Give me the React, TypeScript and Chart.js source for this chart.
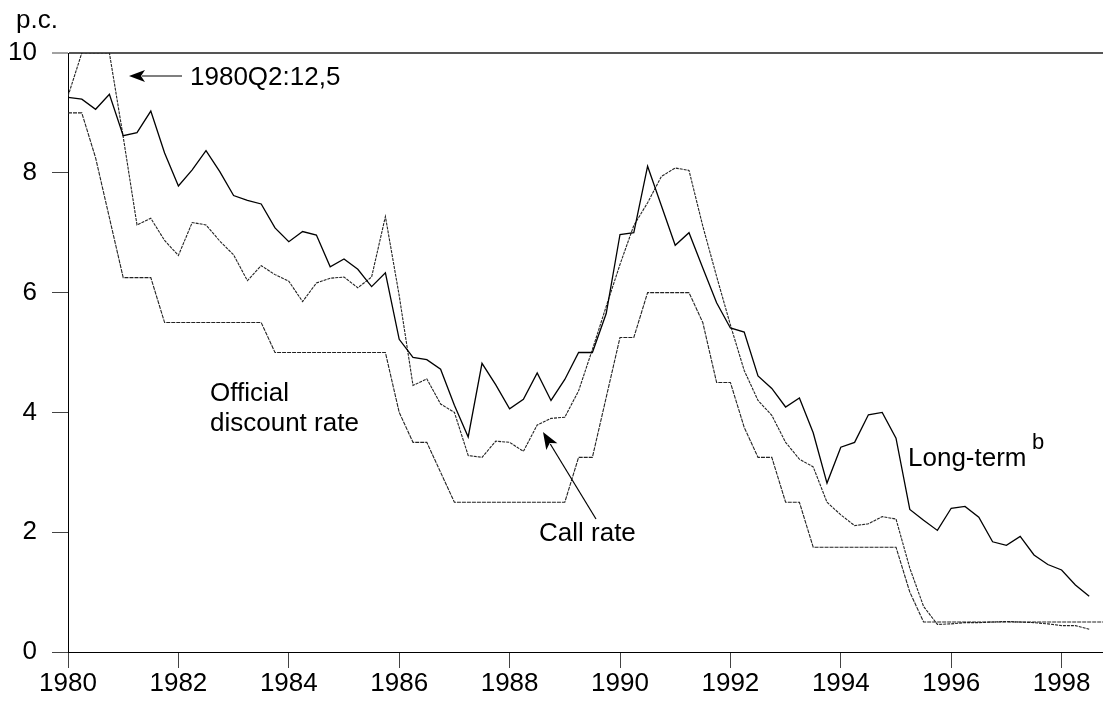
import React, { useEffect, useRef } from 'react';
import { Chart, registerables } from 'chart.js';

Chart.register(...registerables);

const FONT = "'Liberation Sans', Arial, Helvetica, sans-serif";

// Quarterly observations, 1980Q1 .. 1998Q4
const START_YEAR = 1980;
const quarters: number[] = Array.from({ length: 76 }, (_, i) => START_YEAR + i / 4);

const xTickYears = [1980, 1982, 1984, 1986, 1988, 1990, 1992, 1994, 1996, 1998];
const yTickValues = [0, 2, 4, 6, 8, 10];

// Long-term rate (solid)
const longTerm: (number | null)[] = [
  9.26, 9.23, 9.06, 9.31,
  8.62, 8.67, 9.03, 8.33,
  7.78, 8.05, 8.37, 8.02,
  7.62, 7.54, 7.48, 7.08,
  6.85, 7.02, 6.96, 6.43,
  6.56, 6.39, 6.10, 6.33,
  5.22, 4.92, 4.88, 4.72,
  4.12, 3.59, 4.82, 4.46,
  4.06, 4.22, 4.66, 4.20,
  4.55, 5.00, 5.00, 5.65,
  6.97, 7.00, 8.11, 7.45,
  6.79, 7.00, 6.41, 5.83,
  5.41, 5.34, 4.61, 4.40,
  4.09, 4.24, 3.66, 2.82,
  3.42, 3.50, 3.96, 4.00,
  3.57, 2.38, 2.20, 2.03,
  2.40, 2.43, 2.25, 1.84,
  1.78, 1.93, 1.62, 1.46,
  1.37, 1.12, 0.93, null,
];

// Call rate (fine dashes), capped at 10 on the chart
const callRate: (number | null)[] = [
  9.28, 10.0, 10.0, 10.0,
  8.60, 7.13, 7.24, 6.87,
  6.62, 7.17, 7.13, 6.86,
  6.63, 6.20, 6.45, 6.30,
  6.19, 5.85, 6.16, 6.24,
  6.26, 6.08, 6.26, 7.27,
  5.95, 4.45, 4.56, 4.14,
  4.00, 3.28, 3.25, 3.52,
  3.50, 3.35, 3.79, 3.90,
  3.92, 4.36, 5.05, 5.77,
  6.47, 7.12, 7.50, 7.94,
  8.08, 8.04, 7.11, 6.27,
  5.46, 4.70, 4.20, 3.95,
  3.50, 3.22, 3.09, 2.50,
  2.29, 2.11, 2.14, 2.26,
  2.22, 1.40, 0.76, 0.46,
  0.47, 0.49, 0.49, 0.50,
  0.51, 0.50, 0.49, 0.47,
  0.44, 0.44, 0.38, null,
];

// Official discount rate (dashes)
const discountRate: number[] = [
  9.0, 9.0, 8.25, 7.25,
  6.25, 6.25, 6.25, 5.5,
  5.5, 5.5, 5.5, 5.5,
  5.5, 5.5, 5.5, 5.0,
  5.0, 5.0, 5.0, 5.0,
  5.0, 5.0, 5.0, 5.0,
  4.0, 3.5, 3.5, 3.0,
  2.5, 2.5, 2.5, 2.5,
  2.5, 2.5, 2.5, 2.5,
  2.5, 3.25, 3.25, 4.25,
  5.25, 5.25, 6.0, 6.0,
  6.0, 6.0, 5.5, 4.5,
  4.5, 3.75, 3.25, 3.25,
  2.5, 2.5, 1.75, 1.75,
  1.75, 1.75, 1.75, 1.75,
  1.75, 1.0, 0.5, 0.5,
  0.5, 0.5, 0.5, 0.5,
  0.5, 0.5, 0.5, 0.5,
  0.5, 0.5, 0.5, 0.5,
];

const toPoints = (vals: (number | null)[]) =>
  vals.map((v, i) => ({ x: quarters[i], y: v as number }));

function drawArrow(
  ctx: CanvasRenderingContext2D,
  x1: number, y1: number, x2: number, y2: number,
  headLen: number, headHalf: number
) {
  const ang = Math.atan2(y2 - y1, x2 - x1);
  const bx = x2 - headLen * Math.cos(ang);
  const by = y2 - headLen * Math.sin(ang);
  ctx.beginPath();
  ctx.moveTo(x1, y1);
  ctx.lineTo(bx + 3 * Math.cos(ang), by + 3 * Math.sin(ang));
  ctx.lineWidth = 1.2;
  ctx.stroke();
  const px = -Math.sin(ang), py = Math.cos(ang);
  const nx = x2 - (headLen - 4) * Math.cos(ang);
  const ny = y2 - (headLen - 4) * Math.sin(ang);
  ctx.beginPath();
  ctx.moveTo(x2, y2);
  ctx.lineTo(bx + px * headHalf, by + py * headHalf);
  ctx.lineTo(nx, ny);
  ctx.lineTo(bx - px * headHalf, by - py * headHalf);
  ctx.closePath();
  ctx.fill();
}

const annotationPlugin = {
  id: 'textAnnotations',
  afterDraw(chart: any) {
    const ctx: CanvasRenderingContext2D = chart.ctx;
    ctx.save();
    ctx.fillStyle = '#000';
    ctx.strokeStyle = '#000';
    ctx.textAlign = 'left';
    ctx.textBaseline = 'alphabetic';
    ctx.font = `26px ${FONT}`;
    ctx.fillText('p.c.', 16, 28);
    ctx.fillText('1980Q2:12,5', 190, 85);
    ctx.fillText('Official', 210, 401);
    ctx.fillText('discount rate', 210, 431);
    ctx.fillText('Call rate', 539, 541);
    ctx.fillText('Long-term', 908, 466);
    ctx.font = `22px ${FONT}`;
    ctx.fillText('b', 1032, 449);
    drawArrow(ctx, 182, 76, 129, 76, 16, 6);
    drawArrow(ctx, 596, 519, 543, 432, 17, 6.5);
    ctx.restore();
  },
};

export default function App() {
  const canvasRef = useRef<HTMLCanvasElement | null>(null);

  useEffect(() => {
    if (!canvasRef.current) return;
    const lineBase = { pointRadius: 0, tension: 0, fill: false, spanGaps: false };
    const chart = new Chart(canvasRef.current, {
      type: 'line',
      data: {
        datasets: [
          {
            ...lineBase,
            label: 'Long-term',
            data: toPoints(longTerm),
            borderColor: '#000',
            borderWidth: 1.3,
          },
          {
            ...lineBase,
            label: 'Call rate',
            data: toPoints(callRate),
            borderColor: '#222',
            borderWidth: 1.1,
            borderDash: [3, 1],
          },
          {
            ...lineBase,
            label: 'Official discount rate',
            data: toPoints(discountRate),
            borderColor: '#222',
            borderWidth: 1.1,
            borderDash: [4, 1],
          },
        ],
      } as any,
      options: {
        animation: false,
        responsive: false,
        maintainAspectRatio: false,
        layout: { padding: { top: 53, right: 0, left: 0, bottom: 0 } },
        plugins: {
          legend: { display: false },
          tooltip: { enabled: false },
          title: { display: false },
        },
        scales: {
          x: {
            type: 'linear',
            min: 1980,
            max: 1998.75,
            afterBuildTicks: (s: any) => {
              s.ticks = xTickYears.map((v) => ({ value: v }));
            },
            afterFit: (s: any) => {
              s.height = 57;
              s.paddingLeft = 0;
              s.paddingRight = 0;
            },
            grid: {
              drawOnChartArea: false,
              drawTicks: true,
              tickLength: 16,
              tickColor: '#444',
              tickWidth: 1,
            },
            border: { display: true, color: '#000', width: 1 },
            ticks: {
              color: '#000',
              font: { family: FONT, size: 26 },
              padding: 0,
              maxRotation: 0,
              autoSkip: false,
              callback: (v: any) => String(v),
            },
          },
          y: {
            type: 'linear',
            min: 0,
            max: 10,
            afterBuildTicks: (s: any) => {
              s.ticks = yTickValues.map((v) => ({ value: v }));
            },
            afterFit: (s: any) => {
              s.width = 68;
              s.paddingTop = 0;
              s.paddingBottom = 0;
            },
            grid: {
              drawOnChartArea: true,
              drawTicks: true,
              tickLength: 16,
              color: (c: any) => (c.tick && c.tick.value === 10 ? '#555' : 'rgba(0,0,0,0)'),
              lineWidth: (c: any) => (c.tick && c.tick.value === 10 ? 2 : 1),
              tickColor: '#444',
              tickWidth: 1,
            },
            border: { display: true, color: '#000', width: 1 },
            ticks: {
              color: '#000',
              font: { family: FONT, size: 26 },
              padding: 15,
              callback: (v: any) => String(v),
            },
          },
        },
      } as any,
      plugins: [annotationPlugin],
    });
    return () => chart.destroy();
  }, []);

  return (
    <div style={{ position: 'fixed', left: 0, top: 0, width: 1103, height: 709, background: '#fff' }}>
      <canvas ref={canvasRef} width={1103} height={709} style={{ display: 'block' }} />
    </div>
  );
}
